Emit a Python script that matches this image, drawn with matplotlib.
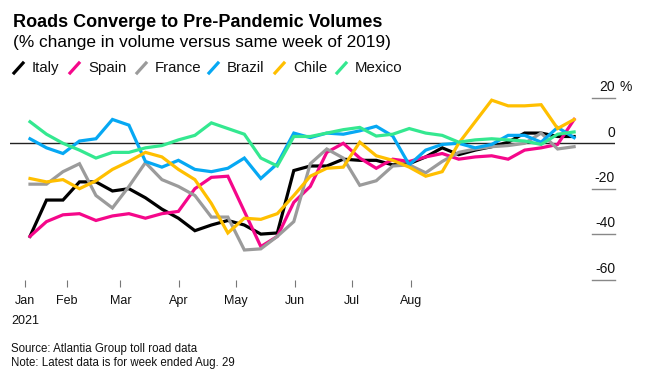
import matplotlib.pyplot as plt
from matplotlib.lines import Line2D
import matplotlib.transforms as mtransforms

# weekly % change vs same week of 2019, weeks ended Jan 10 .. Aug 29 2021
italy = [-41, -25, -25, -17, -17, -21, -20, -24, -29, -33, -38.5, -36, -34, -36, -40, -39.5,
         -12, -10, -10, -7, -7.5, -7.5, -9.5, -9, -6, -2, -5, -3, -1.5, 0.5, 4.5, 4.5, 3, 3]
spain = [-41, -34.5, -31.5, -31, -34, -32, -31, -33, -31, -30, -20, -15, -14.5, -30, -45.5, -41,
         -26, -19, -4, 0, -6.5, -11, -7, -8, -6, -4.5, -7, -6, -5.5, -7, -3, -2, -0.5, 10.5]
france = [-18, -18, -12.5, -9, -23, -28.5, -19, -8.5, -16, -19, -23, -32.5, -32.5, -47, -46.5, -41,
          -34.5, -9, -2.5, -6.5, -18.5, -16.5, -10, -9.5, -13, -8, -4, -2.5, -1.5, -1, 0, 4.5, -2.5, -1.5]
brazil = [2, -2, -4.5, 1, 2, 10.5, 8, -8, -10.5, -7.5, -11.5, -12.5, -11, -6.5, -15.5, -9,
          4.5, 2.5, 4.5, 4, 5.5, 7.5, 3.2, -9.5, -3, -0.5, 0, -2, -0.5, 3.5, 3.5, 0.5, 7, 2.5]
chile = [-15.5, -17, -16, -20, -16.5, -11.5, -8, -4, -6, -11.5, -16, -26.5, -39.5, -33, -33.5, -31,
         -23, -14.5, -11, -10.5, 0.5, -5.5, -7.5, -10.5, -14.5, -12.5, 0, 9.5, 19, 16.5, 16.5, 17, 6.5, 10.5]
mexico = [9.5, 4, 0, -3, -6.5, -4, -4, -2, -1, 1.5, 3.5, 9, 6.5, 4, -6.5, -10,
          3, 3, 4.5, 6, 7, 3.2, 4, 6.5, 4.5, 3.5, 0.5, 1.5, 2, 1.5, 1, -0.5, 4, 5]

countries = ["Italy", "Spain", "France", "Brazil", "Chile", "Mexico"]
colors = ["#000000", "#f5078a", "#9b9b9b", "#06a8f3", "#ffbf00", "#34e890"]
series = [italy, spain, france, brazil, chile, mexico]

months = ["Jan", "Feb", "Mar", "Apr", "May", "Jun", "Jul", "Aug"]
month_pos = [-0.3, 2.25, 5.48, 9.05, 12.49, 16.07, 19.53, 23.09]
yticks = [20, 0, -20, -40, -60]

plt.rcParams["font.family"] = ["Liberation Sans", "DejaVu Sans"]

fig = plt.figure(figsize=(6.47, 3.77), dpi=100)
ax = fig.add_axes([10 / 647, 1 - 280 / 377, 605 / 647, 192 / 377])

weeks = list(range(len(italy)))
ax.axhline(0, color="#222222", lw=1, zorder=1)
for s, c in zip(series, colors):
    ax.plot(weeks, s, color=c, lw=2.3, solid_joinstyle="miter", zorder=3)

ax.set_xlim(-1.213, 35.48)
ax.set_ylim(-60.22, 24.36)
for sp in ax.spines.values():
    sp.set_visible(False)
ax.set_yticks([])
ax.set_xticks(month_pos)
ax.set_xticklabels(months, fontsize=9, color="#111111")
ax.tick_params(axis="x", length=5, width=0.8, color="#777777", pad=6)
ax.text(month_pos[0], -0.18, "2021", transform=mtransforms.blended_transform_factory(ax.transData, ax.transAxes),
        ha="center", va="top", fontsize=9, color="#111111")

# right-side value labels with short rules
trans = mtransforms.blended_transform_factory(ax.transAxes, ax.transData)
for v in yticks:
    if v != 0:
        ax.plot([0.962, 1.0], [v, v], transform=trans, color="#888888", lw=1, clip_on=False)
    ax.text(1.0, v + 1.6, str(v), transform=trans, ha="right", va="bottom", fontsize=10, color="#111111")
ax.text(1.008, 20 + 1.6, "%", transform=trans, ha="left", va="bottom", fontsize=10, color="#111111")

fig.text(13 / 647, 1 - 27 / 377, "Roads Converge to Pre-Pandemic Volumes", fontsize=13,
         fontweight="bold", color="#000000", va="baseline")
fig.text(13 / 647, 1 - 47 / 377, "(% change in volume versus same week of 2019)", fontsize=12.4,
         color="#000000", va="baseline")

# legend
leg_x = [14, 70, 137, 209, 275, 337]
for x0, name, c in zip(leg_x, countries, colors):
    fig.add_artist(Line2D([x0 / 647, (x0 + 9) / 647], [1 - 73 / 377, 1 - 63 / 377], color=c, lw=2.3,
                          transform=fig.transFigure))
    fig.text((x0 + 18) / 647, 1 - 72 / 377, name, fontsize=10.8, color="#111111", va="baseline")

fig.text(11 / 647, 1 - 352 / 377, "Source: Atlantia Group toll road data", fontsize=8.3,
         color="#111111", va="baseline")
fig.text(11 / 647, 1 - 366 / 377, "Note: Latest data is for week ended Aug. 29", fontsize=8.3,
         color="#111111", va="baseline")

fig.savefig("out.png", dpi=100)
